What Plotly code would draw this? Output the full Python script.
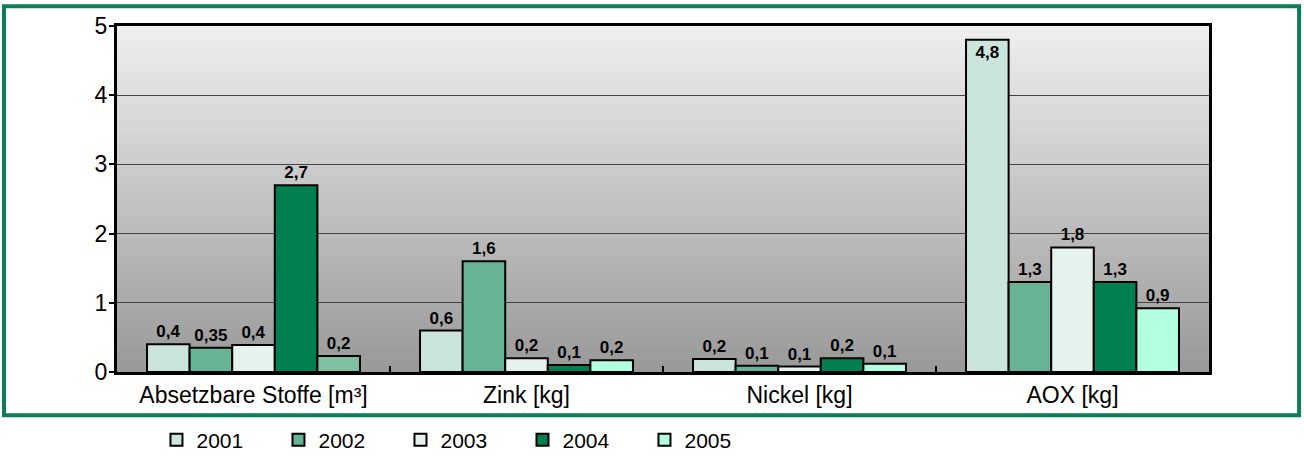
import plotly.graph_objects as go

categories = ["Absetzbare Stoffe [m³]", "Zink [kg]", "Nickel [kg]", "AOX [kg]"]
years = ["2001", "2002", "2003", "2004", "2005"]
values = {
    "2001": [0.40, 0.60, 0.19, 4.80],
    "2002": [0.35, 1.60, 0.09, 1.30],
    "2003": [0.39, 0.20, 0.08, 1.80],
    "2004": [2.70, 0.10, 0.20, 1.30],
    "2005": [0.23, 0.17, 0.12, 0.92],
}
labels = {
    "2001": ["0,4", "0,6", "0,2", "4,8"],
    "2002": ["0,35", "1,6", "0,1", "1,3"],
    "2003": ["0,4", "0,2", "0,1", "1,8"],
    "2004": ["2,7", "0,1", "0,2", "1,3"],
    "2005": ["0,2", "0,2", "0,1", "0,9"],
}
colors = {
    "2001": "#CCE5DC",
    "2002": "#66B395",
    "2003": "#E6F2EE",
    "2004": "#008050",
    "2005": "#B3FFE1",
}
odd_color = "#80BFA0"  # Absetzbare Stoffe 2005 bar is drawn in a darker tint
y_ticks = [0, 1, 2, 3, 4, 5]

FONT = "Liberation Sans, Arial, sans-serif"

fig = go.Figure()
for yr in years:
    vals = values[yr]
    pos = ["inside" if v > 4.5 else "outside" for v in vals]
    mcol = [colors[yr]] * len(vals)
    order = list(range(len(categories)))
    if yr == "2005":
        mcol[0] = odd_color
        order = order[1:] + order[:1]  # legend swatch takes the first point's colour
    fig.add_trace(go.Bar(
        name=yr,
        x=[categories[i] for i in order],
        y=[vals[i] for i in order],
        marker=dict(color=[mcol[i] for i in order], line=dict(color="black", width=2)),
        text=[labels[yr][i] for i in order],
        textposition=[pos[i] for i in order], insidetextanchor="end",
        textfont=dict(family=FONT, size=17, color="black", weight="bold"),
        cliponaxis=False,
    ))

# gradient background of plot area
n = 120
for i in range(n):
    t = i / (n - 1)
    g = int(round(0x99 + (0xEF - 0x99) * t))
    col = f"rgb({g},{g},{g})"
    fig.add_shape(type="rect", xref="x domain", yref="y domain",
                  x0=0, x1=1, y0=i / n, y1=min(1, (i + 1.6) / n),
                  fillcolor=col, line=dict(width=0), layer="below")

# outer green frame
fig.add_shape(type="rect", xref="paper", yref="paper",
              x0=-0.1035, x1=1.0825, y0=-0.125, y1=1.057,
              line=dict(color="#0A7F55", width=4), fillcolor="rgba(0,0,0,0)",
              layer="below")

fig.update_layout(
    width=1304, height=458,
    margin=dict(l=117, r=95, t=26, b=80),
    paper_bgcolor="white",
    plot_bgcolor="rgba(0,0,0,0)",
    barmode="group", bargap=0.22, bargroupgap=0,
    font=dict(family=FONT, color="black"),
    showlegend=True,
    legend=dict(orientation="h", xref="container", yref="container",
                x=0.12, xanchor="left", y=0.039, yanchor="middle",
                font=dict(size=21, family=FONT), entrywidth=77, entrywidthmode="pixels",
                itemwidth=30, traceorder="normal", bgcolor="rgba(0,0,0,0)",
                tracegroupgap=0),
)
fig.update_xaxes(
    categoryorder="array", categoryarray=categories,
    showline=True, linecolor="black", linewidth=3, mirror=True,
    ticks="inside", tickson="boundaries", ticklen=6, tickcolor="black", tickwidth=2,
    tickfont=dict(size=23, family=FONT), showgrid=False,
)
fig.update_yaxes(
    range=[0, 5], tickvals=y_ticks, ticktext=[str(v) for v in y_ticks],
    showline=True, linecolor="black", linewidth=3, mirror=True,
    ticks="outside", ticklen=5, tickcolor="black", tickwidth=2,
    ticklabelstandoff=-3,
    tickfont=dict(size=23, family=FONT),
    showgrid=True, gridcolor="#444444", gridwidth=1, zeroline=False,
)

fig.write_html("out.html", config={"displayModeBar": False},
               post_script="document.body.style.margin='0px';")
